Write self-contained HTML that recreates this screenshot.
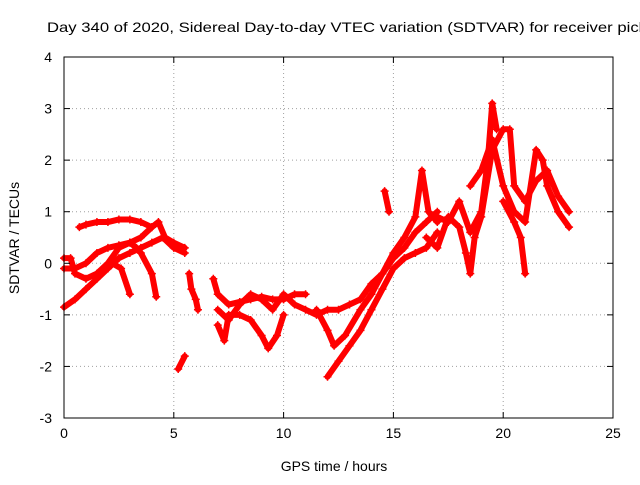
<!DOCTYPE html>
<html><head><meta charset="utf-8"><style>
body{margin:0;background:#fff;overflow:hidden;}
svg text{font-family:"Liberation Sans",sans-serif;font-size:14px;fill:#000;}
</style></head><body>
<svg id="chart" width="640" height="480">
<text x="47" y="32" textLength="600" lengthAdjust="spacingAndGlyphs">Day 340 of 2020, Sidereal Day-to-day VTEC variation (SDTVAR) for receiver pick</text>
<g id="grid"></g><g id="marks"></g><g id="axes"></g>
<text x="334" y="471" text-anchor="middle">GPS time / hours</text>
<text transform="translate(19,238) rotate(-90)" text-anchor="middle">SDTVAR / TECUs</text>
</svg>
<script>
const xTicks=[0,5,10,15,20,25];
const yTicks=[-3,-2,-1,0,1,2,3,4];
const trackA=[[0,-0.85],[0.5,-0.7],[1,-0.5],[1.5,-0.3],[2,-0.1],[2.5,0.1],[3,0.2],[3.5,0.3],[4,0.4],[4.5,0.5],[5,0.3],[5.5,0.2]];
const trackB=[[0,0.1],[0.3,0.1],[0.5,-0.2],[1,-0.3],[1.5,-0.2],[2,0],[2.5,0.3],[3,0.4],[3.5,0.5],[4,0.7],[4.3,0.8],[4.6,0.5],[5,0.4],[5.5,0.3]];
const trackC=[[0.7,0.7],[1,0.75],[1.5,0.8],[2,0.8],[2.5,0.85],[3,0.85],[3.5,0.8],[4,0.7]];
const trackD=[[0,-0.1],[0.5,-0.1],[1,0],[1.5,0.2],[2,0.3],[2.5,0.35],[3,0.4],[3.3,0.3],[3.5,0.2],[4,-0.2],[4.2,-0.65]];
const trackE=[[2.2,0],[2.6,-0.1],[3,-0.6]];
const trackF=[[5.7,-0.2],[5.8,-0.5],[6,-0.7],[6.1,-0.9]];
const trackF2=[[5.2,-2.05],[5.5,-1.8]];
const trackG=[[6.8,-0.3],[7,-0.6],[7.5,-0.8],[8,-0.75],[8.5,-0.7],[9,-0.65],[9.5,-0.7],[10,-0.7],[10.5,-0.6],[11,-0.6]];
const trackH=[[7,-0.9],[7.5,-1.1],[8,-0.8],[8.5,-0.6],[9,-0.7],[9.5,-0.9],[10,-0.6],[10.5,-0.8],[11,-0.9],[11.5,-1.0],[12,-0.9],[12.5,-0.9],[13,-0.8],[13.5,-0.7],[14,-0.4],[14.5,-0.2],[15,0.1],[15.5,0.3],[16,0.6],[16.5,0.8],[17,1.0]];
const trackI=[[7,-1.2],[7.3,-1.5],[7.5,-1.0],[8,-1.0],[8.5,-1.1],[9,-1.4],[9.3,-1.65],[9.7,-1.4],[10,-1.0]];
const trackJ=[[12,-2.2],[12.5,-1.9],[13,-1.6],[13.5,-1.3],[14,-0.9],[14.5,-0.5],[15,-0.1],[15.5,0.1],[16,0.2],[16.5,0.3],[17,0.6]];
const trackK=[[11.5,-0.9],[12,-1.3],[12.3,-1.6],[12.8,-1.4],[13.5,-0.9],[14,-0.6],[14.5,-0.2],[15,0.2],[15.5,0.5],[16,0.9],[16.3,1.8],[16.6,1.0],[17,0.8]];
const trackL=[[14.6,1.4],[14.8,1.0]];
const trackM=[[17,0.9],[17.5,0.8],[18,1.2],[18.5,0.6],[19,1.0],[19.3,2.0],[19.5,3.1],[19.7,2.6]];
const trackN=[[16.5,0.5],[17,0.3],[17.5,0.9],[18,0.7],[18.3,0.2],[18.5,-0.2],[18.7,0.5],[19,0.9],[19.5,2.2],[20,2.6],[20.3,2.6],[20.5,1.5],[21,1.2],[21.5,1.6],[22,1.8],[22.5,1.3],[23,1.0]];
const trackO=[[18.5,1.5],[19,1.8],[19.5,2.4],[20,1.5],[20.5,1.0],[21,0.8],[21.5,2.2],[21.8,2.0],[22,1.5],[22.5,1.0],[23,0.7]];
const trackP=[[20,1.2],[20.5,0.8],[20.8,0.5],[21,-0.2]];
const tracks=[trackA,trackB,trackC,trackD,trackE,trackF,trackF2,trackG,trackH,trackI,trackJ,trackK,trackL,trackM,trackN,trackO,trackP];
const L=64,R=613,T=57,B=418;
const xs=v=>L+(v-0)/25*(R-L);
const ys=v=>B-(v+3)/7*(B-T);
const NS="http://www.w3.org/2000/svg";
function mk(tag,attrs,parent){const e=document.createElementNS(NS,tag);for(const k in attrs)e.setAttribute(k,attrs[k]);parent.appendChild(e);return e;}
const grid=document.getElementById('grid'),axes=document.getElementById('axes'),marks=document.getElementById('marks');
xTicks.forEach(t=>{const x=xs(t);
 if(t>0&&t<25){const g=mk('line',{x1:x,x2:x,y1:T,y2:B,stroke:'#a0a0a0','stroke-dasharray':'1,3'},grid);
 
 }
 mk('line',{x1:x,x2:x,y1:B,y2:B-6,stroke:'#000'},axes);mk('line',{x1:x,x2:x,y1:T,y2:T+6,stroke:'#000'},axes);
 const tx=mk('text',{x:x,y:B+20,'text-anchor':'middle'},axes);tx.textContent=t;
 
 });
yTicks.forEach(t=>{const y=ys(t);
 if(t>-3&&t<4){const g=mk('line',{x1:L,x2:R,y1:y,y2:y,stroke:'#a0a0a0','stroke-dasharray':'1,3'},grid);
 
 }
 mk('line',{x1:L,x2:L+6,y1:y,y2:y,stroke:'#000'},axes);mk('line',{x1:R,x2:R-6,y1:y,y2:y,stroke:'#000'},axes);
 const tx=mk('text',{x:L-12,y:y+5,'text-anchor':'end'},axes);tx.textContent=t;
 
 });
const fr=mk('rect',{x:L,y:T,width:R-L,height:B-T,fill:'none',stroke:'#000'},axes);


tracks.forEach((tr,i)=>{
 const p=mk('polyline',{points:tr.map(d=>xs(d[0])+','+ys(d[1])).join(' '),fill:'none',stroke:'#ff0000','stroke-width':6,'stroke-linejoin':'round','stroke-linecap':'round'},marks);
 
 
 tr.forEach(d=>{const x=xs(d[0]),y=ys(d[1]);
  const m=mk('path',{d:`M${x-4},${y}H${x+4}M${x},${y-4}V${y+4}`,stroke:'#ff0000','stroke-width':1.5},marks);
  
  });
});
</script>
</body></html>
